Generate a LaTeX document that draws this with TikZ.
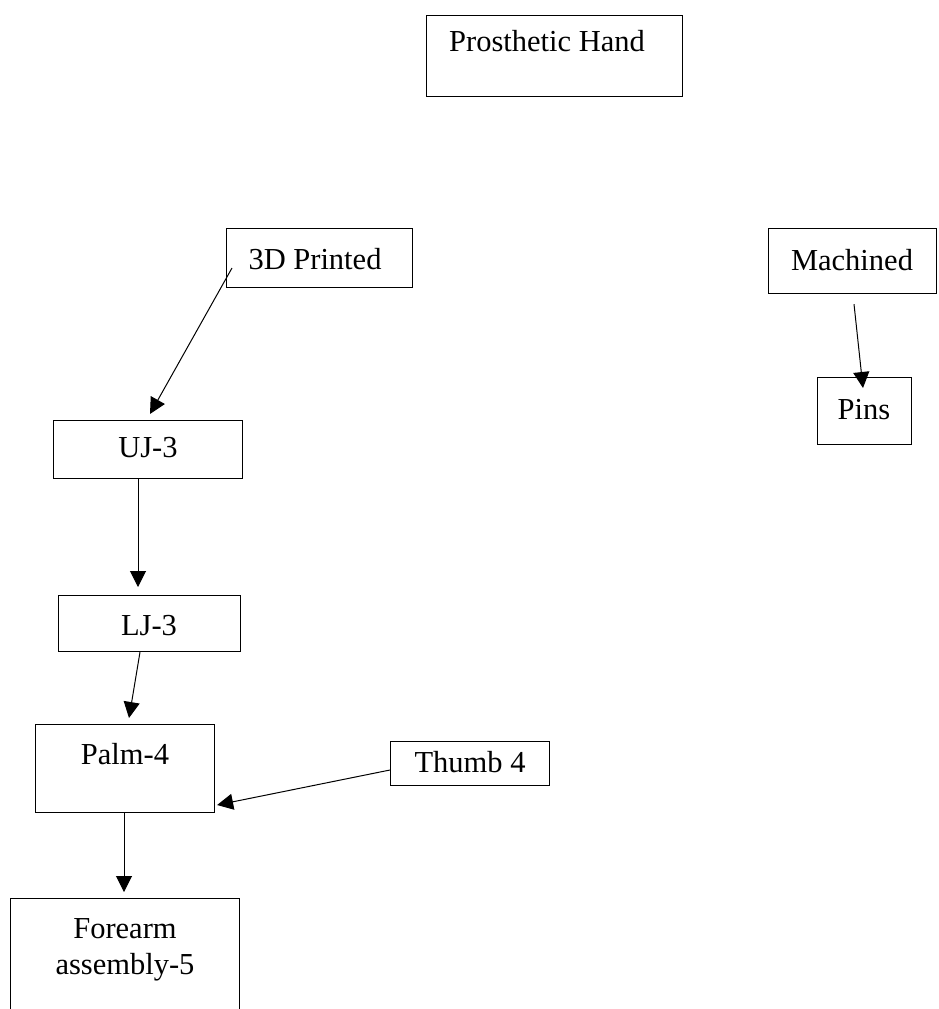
\documentclass[tikz,border=0pt]{standalone}
\usepackage{fontspec}
\setmainfont{Liberation Serif}
\usetikzlibrary{arrows.meta,calc}
\begin{document}
\begin{tikzpicture}[x=1pt,y=-1pt,
  box/.style={draw, line width=1.1pt, inner sep=0pt, anchor=north west},
  txt/.style={anchor=base, inner sep=0pt, font=\fontsize{30.5}{36}\selectfont, align=center},
  conn/.style={line width=1pt, -{Triangle[length=16pt,width=16pt]}}]
\useasboundingbox (0,0) rectangle (939,1009);
\clip (0,0) rectangle (939,1009);
\fill[white] (0,0) rectangle (939,1009);
% boxes
\node[box, minimum width=256pt, minimum height=81pt] (hand) at (426,15) {};
\node[box, minimum width=186pt, minimum height=59pt] (p3d) at (226,228) {};
\node[box, minimum width=168pt, minimum height=65pt] (mach) at (768,228) {};
\node[box, minimum width=94pt, minimum height=67pt] (pins) at (817,377) {};
\node[box, minimum width=189pt, minimum height=58pt] (uj) at (53,420) {};
\node[box, minimum width=182pt, minimum height=56pt] (lj) at (58,595) {};
\node[box, minimum width=179pt, minimum height=88pt] (palm) at (35,724) {};
\node[box, minimum width=159pt, minimum height=44pt] (thumb) at (390,741) {};
\node[box, minimum width=229pt, minimum height=130pt] (fore) at (10,898) {};
% texts
\node[txt] (thand) at (547,51) {Prosthetic Hand};
\node[txt] (tp3d) at (315,269) {3D Printed};
\node[txt] (tmach) at (852,270) {Machined};
\node[txt] (tpins) at (864,419) {Pins};
\node[txt] (tuj) at (148,457) {UJ-3};
\node[txt] (tlj) at (149,635) {LJ-3};
\node[txt] (tpalm) at (125,764) {Palm-4};
\node[txt] (tthumb) at (470,772) {Thumb 4};
\node[txt] (tfore1) at (125,938) {Forearm};
\node[txt] (tfore2) at (125,974) {assembly-5};
% connectors
\draw[conn] ($(p3d.north west)+(6,40)$) -- ($(uj.north west)+(97,-6)$);
\draw[conn] ($(uj.south west)+(85,0)$) -- ($(lj.north west)+(80,-8)$);
\draw[conn] ($(lj.south west)+(82,0)$) -- ($(palm.north west)+(94,-6)$);
\draw[conn] ($(thumb.north west)+(0,29)$) -- ($(palm.north east)+(2,81)$);
\draw[conn] ($(palm.south west)+(89,0)$) -- ($(fore.north west)+(114,-6)$);
\draw[conn] ($(mach.south west)+(86,10)$) -- ($(pins.north west)+(46,11)$);
\end{tikzpicture}
\end{document}
